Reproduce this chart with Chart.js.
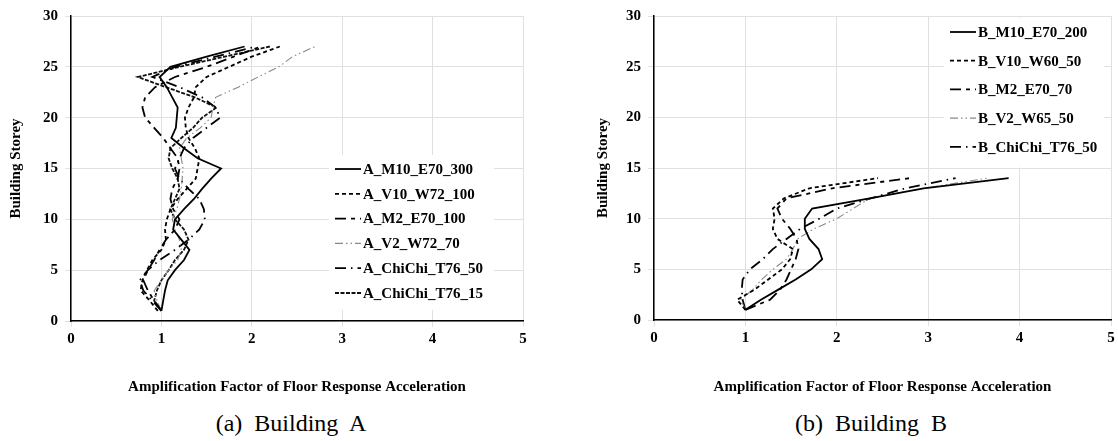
<!DOCTYPE html>
<html>
<head>
<meta charset="utf-8">
<script src="https://cdn.jsdelivr.net/npm/chart.js@4.4.1/dist/chart.umd.min.js"></script>
<style>
  html, body { margin: 0; padding: 0; background: #fff; }
  body { width: 1118px; height: 441px; position: relative; overflow: hidden; }
  .wrap { position: absolute; top: 0; height: 400px; }
  #wrapA { left: 0; width: 540px; }
  #wrapB { left: 560px; width: 558px; }
  .caption {
    position: absolute; top: 409px; font-family: "Liberation Serif", "Times New Roman", serif;
    font-size: 24px; line-height: 28px; color: #000; white-space: pre; transform: translateX(-50%);
  }
</style>
</head>
<body>
<div class="wrap" id="wrapA"><canvas id="chartA"></canvas></div>
<div class="wrap" id="wrapB"><canvas id="chartB"></canvas></div>
<div class="caption" style="left:291px">(a)  Building  A</div>
<div class="caption" style="left:871px">(b)  Building  B</div>

<script>
// --- Data: amplification factor per storey ---
const storeysA = [1, 2, 3, 4, 5, 6, 7, 8, 9, 10, 11, 12, 13, 14, 15, 16, 17, 18, 19, 20, 21, 22, 23, 24, 25, 26, 27];
const storeysB = [1, 2, 3, 4, 5, 6, 7, 8, 9, 10, 11, 12, 13, 14];

const A_M10_E70_300 = [1.0, 1.02, 1.04, 1.07, 1.15, 1.25, 1.31, 1.22, 1.13, 1.15, 1.25, 1.36, 1.45, 1.55, 1.66, 1.4, 1.25, 1.11, 1.16, 1.17, 1.18, 1.12, 1.06, 0.98, 1.1, 1.5, 1.92];
const A_V10_W72_100 = [0.96, 0.87, 0.77, 0.79, 0.84, 0.9, 1.0, 1.05, 1.04, 1.06, 1.1, 1.18, 1.28, 1.38, 1.4, 1.42, 1.37, 1.3, 1.27, 1.26, 1.3, 1.36, 1.38, 1.5, 1.75, 2.0, 2.31];
const A_M2_E70_100 = [1.0, 0.92, 0.85, 0.8, 0.85, 0.92, 0.98, 1.05, 1.15, 1.2, 1.13, 1.1, 1.12, 1.18, 1.2, 1.18, 1.1, 1.02, 0.92, 0.82, 0.79, 0.82, 0.93, 1.15, 1.5, 1.8, 2.1];
const A_V2_W72_70 = [1.0, 0.95, 0.92, 1.0, 1.08, 1.18, 1.22, 1.2, 1.15, 1.12, 1.17, 1.2, 1.22, 1.23, 1.24, 1.22, 1.2, 1.28, 1.43, 1.55, 1.57, 1.6, 1.85, 2.07, 2.3, 2.45, 2.7];
const A_ChiChi_T76_50 = [1.0, 0.9, 0.8, 0.76, 0.85, 0.98, 1.15, 1.3, 1.42, 1.48, 1.47, 1.42, 1.3, 1.2, 1.15, 1.2, 1.25, 1.35, 1.5, 1.65, 1.6, 1.45, 1.2, 0.9, 1.15, 1.6, 2.05];
const A_ChiChi_T76_15 = [1.0, 0.92, 0.95, 1.0, 1.08, 1.15, 1.25, 1.3, 1.25, 1.15, 1.1, 1.15, 1.2, 1.18, 1.12, 1.08, 1.1, 1.22, 1.35, 1.45, 1.61, 1.37, 1.05, 0.74, 1.2, 1.7, 2.2];

const B_M10_E70_200 = [1.0, 1.17, 1.36, 1.55, 1.72, 1.84, 1.8, 1.7, 1.65, 1.65, 1.73, 2.36, 2.95, 3.88];
const B_V10_W60_50 = [1.0, 0.91, 1.1, 1.25, 1.4, 1.49, 1.52, 1.35, 1.3, 1.32, 1.3, 1.42, 1.7, 2.45];
const B_M2_E70_70 = [1.0, 1.27, 1.38, 1.45, 1.5, 1.55, 1.58, 1.56, 1.49, 1.4, 1.35, 1.45, 1.95, 2.8];
const B_V2_W65_50 = [1.0, 0.95, 1.08, 1.18, 1.3, 1.45, 1.52, 1.57, 1.75, 2.0, 2.18, 2.36, 2.95, 3.65];
const B_ChiChi_T76_50 = [1.0, 0.97, 0.96, 0.97, 1.05, 1.19, 1.3, 1.45, 1.6, 1.81, 2.0, 2.37, 2.75, 3.3];

const xTicks = [0, 1, 2, 3, 4, 5];
const yTicks = [0, 5, 10, 15, 20, 25, 30];

// line styles shared by both buildings
const STYLES = {
  M10: { borderColor: '#000', borderWidth: 1.8, borderDash: [] },
  V10: { borderColor: '#000', borderWidth: 1.8, borderDash: [4, 3] },
  M2: { borderColor: '#000', borderWidth: 1.8, borderDash: [11, 5, 4, 5] },
  V2: { borderColor: '#888', borderWidth: 1.1, borderDash: [8, 3, 1.5, 3, 1.5, 3] },
  CC50: { borderColor: '#000', borderWidth: 1.8, borderDash: [11, 5, 1.5, 5] },
  CC15: { borderColor: '#111', borderWidth: 1.8, borderDash: [4, 1.5] }
};

const SERIF = '"Liberation Serif", "Times New Roman", serif';

function series(label, values, storeys, style) {
  return {
    label,
    data: values.map((v, i) => ({ x: v, y: storeys[i] })),
    showLine: true,
    pointRadius: 0,
    fill: false,
    tension: 0,
    ...style
  };
}

// legend drawn inside the plot area, with white box behind it
function legendPlugin(box) {
  return {
    id: 'insideLegend',
    afterDatasetsDraw(chart) {
      const ctx = chart.ctx;
      ctx.save();
      ctx.fillStyle = '#fff';
      ctx.fillRect(box.x - 6, box.y - 14, box.w, box.step * chart.data.datasets.length + 6);
      ctx.font = 'bold 15px ' + SERIF;
      ctx.textBaseline = 'middle';
      chart.data.datasets.forEach((ds, i) => {
        const y = box.y + i * box.step;
        ctx.strokeStyle = ds.borderColor;
        ctx.lineWidth = ds.borderWidth;
        ctx.setLineDash(ds.borderDash);
        ctx.beginPath();
        ctx.moveTo(box.x, y);
        ctx.lineTo(box.x + 26, y);
        ctx.stroke();
        ctx.setLineDash([]);
        ctx.fillStyle = '#000';
        ctx.fillText(ds.label, box.x + 28, y + 1);
      });
      ctx.restore();
    }
  };
}

function createChart(canvasId, datasets, layout, box) {
  const tickFont = { family: SERIF, size: 15, weight: 'bold' };
  const titleFont = { family: SERIF, size: 15, weight: 'bold' };
  return new Chart(document.getElementById(canvasId), {
    type: 'scatter',
    data: { datasets },
    options: {
      responsive: true,
      maintainAspectRatio: false,
      animation: false,
      layout: { padding: { top: layout.top, right: layout.right, left: layout.left, bottom: 0 } },
      plugins: { legend: { display: false }, tooltip: { enabled: false } },
      scales: {
        x: {
          type: 'linear', min: 0, max: 5,
          afterBuildTicks: s => { s.ticks = xTicks.map(v => ({ value: v })); },
          afterFit: s => { s.height = layout.xHeight; },
          grid: { color: '#e0e0e0', lineWidth: 1, tickLength: 6 },
          border: { color: '#000', width: 1.5 },
          ticks: { color: '#000', font: tickFont, padding: 3, maxRotation: 0 },
          title: { display: true, text: 'Amplification Factor of Floor Response Acceleration', color: '#000', font: titleFont, padding: { top: 14 } }
        },
        y: {
          type: 'linear', min: 0, max: 30,
          afterBuildTicks: s => { s.ticks = yTicks.map(v => ({ value: v })); },
          afterFit: s => { s.width = layout.yWidth; },
          grid: { color: '#e0e0e0', lineWidth: 1, tickLength: 6 },
          border: { color: '#000', width: 1.5 },
          ticks: { color: '#000', font: tickFont, padding: 7 },
          title: { display: true, text: 'Building Storey', color: '#000', font: titleFont, padding: { top: 2, bottom: 0 } }
        }
      }
    },
    plugins: [legendPlugin(box)]
  });
}

createChart('chartA', [
  series('A_M10_E70_300', A_M10_E70_300, storeysA, STYLES.M10),
  series('A_V10_W72_100', A_V10_W72_100, storeysA, STYLES.V10),
  series('A_M2_E70_100', A_M2_E70_100, storeysA, STYLES.M2),
  series('A_V2_W72_70', A_V2_W72_70, storeysA, STYLES.V2),
  series('A_ChiChi_T76_50', A_ChiChi_T76_50, storeysA, STYLES.CC50),
  series('A_ChiChi_T76_15', A_ChiChi_T76_15, storeysA, STYLES.CC15)
], { top: 14, right: 17, left: 5, xHeight: 79, yWidth: 66 }, { x: 335, y: 169, step: 24.8, w: 165 });

createChart('chartB', [
  series('B_M10_E70_200', B_M10_E70_200, storeysB, STYLES.M10),
  series('B_V10_W60_50', B_V10_W60_50, storeysB, STYLES.V10),
  series('B_M2_E70_70', B_M2_E70_70, storeysB, STYLES.M2),
  series('B_V2_W65_50', B_V2_W65_50, storeysB, STYLES.V2),
  series('B_ChiChi_T76_50', B_ChiChi_T76_50, storeysB, STYLES.CC50)
], { top: 13, right: 7, left: 32, xHeight: 80, yWidth: 62 }, { x: 390, y: 32, step: 28.7, w: 160 });
</script>
</body>
</html>
